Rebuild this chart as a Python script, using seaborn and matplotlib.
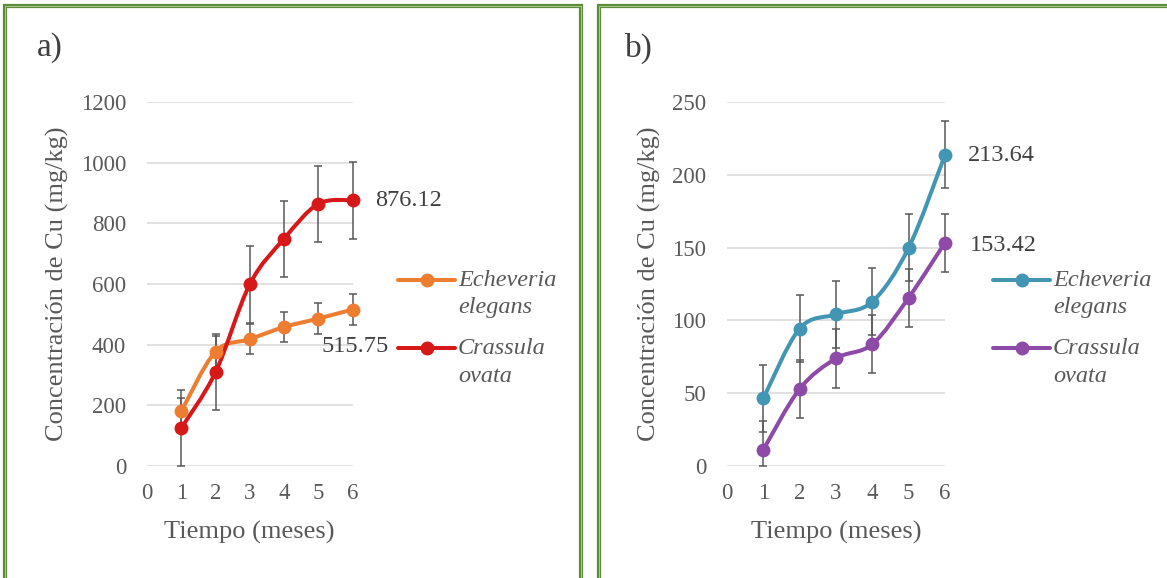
import numpy as np
import matplotlib
matplotlib.use("Agg")
import matplotlib.pyplot as plt
from matplotlib.path import Path
from matplotlib.patches import PathPatch, Rectangle
from matplotlib.lines import Line2D
import seaborn as sns

# ---------------- data ----------------
months = [1, 2, 3, 4, 5, 6]
x_ticks = [0, 1, 2, 3, 4, 5, 6]

# panel a)
ee_cu_a = [180, 377, 418, 458, 486, 515.75]
ee_err_a = [45, 53, 50, 50, 50, 50]
co_cu_a = [125, 309, 599, 749, 864, 876.12]
co_err_a = [125, 125, 126, 126, 126, 127]
y_ticks_a = [0, 200, 400, 600, 800, 1000, 1200]

# panel b)
ee_cu_b = [46.5, 94.4, 104.2, 112.9, 149.9, 213.64]
ee_err_b = [23, 23, 23, 23, 23, 23]
co_cu_b = [11.2, 52.9, 73.9, 83.7, 115.6, 153.42]
co_err_b = [20, 20, 20, 20, 20, 20]
y_ticks_b = [0, 50, 100, 150, 200, 250]

species = ["Echeveria\nelegans", "Crassula\novata"]
panel_labels = ["a)", "b)"]
x_title = "Tiempo (meses)"
y_title = "Concentración de Cu (mg/kg)"

# ---------------- style ----------------
sns.set_theme(style="white")
plt.rcParams["font.family"] = ["Liberation Serif", "DejaVu Serif"]

TICK_C = "#595959"
TXT_C = "#404040"
ERR_C = "#595959"
GRID_C = "#d9d9d9"
GREEN = "#5b8c3a"
GREEN_L = "#a8c890"

W, H = 1167, 578
fig = plt.figure(figsize=(W / 100, H / 100), dpi=100)


def fx(px):
    return px / W


def fy(py):
    return 1 - py / H


def smooth_path(xs, ys):
    xs = np.asarray(xs, float)
    ys = np.asarray(ys, float)
    n = len(xs)
    verts = [(xs[0], ys[0])]
    codes = [Path.MOVETO]
    for i in range(n - 1):
        i0 = max(i - 1, 0)
        i3 = min(i + 2, n - 1)
        c1 = (xs[i] + (xs[i + 1] - xs[i0]) / 6, ys[i] + (ys[i + 1] - ys[i0]) / 6)
        c2 = (xs[i + 1] - (xs[i3] - xs[i]) / 6, ys[i + 1] - (ys[i3] - ys[i]) / 6)
        verts += [c1, c2, (xs[i + 1], ys[i + 1])]
        codes += [Path.CURVE4, Path.CURVE4, Path.CURVE4]
    return Path(verts, codes)


def draw_series(ax, y, err, color):
    y_arr = np.asarray(y, float)
    e_arr = np.asarray(err, float)
    lower = np.minimum(e_arr, y_arr - ax.get_ylim()[0])  # bars stop at the axis floor
    ax.errorbar(months, y, yerr=[lower, e_arr], fmt="none", ecolor=ERR_C, elinewidth=1.1,
                capsize=3, capthick=1.1, zorder=2, clip_on=False)
    patch = PathPatch(smooth_path(months, y), facecolor="none", edgecolor=color,
                      lw=2.9, zorder=3, capstyle="round", joinstyle="round")
    patch.set_clip_on(False)
    ax.add_patch(patch)
    sns.scatterplot(x=months, y=y, ax=ax, color=color, s=100, linewidth=0,
                    zorder=4, clip_on=False, legend=False)


def style_axes(ax, yticks):
    ax.set_xlim(0, 6)
    ax.set_ylim(yticks[0], yticks[-1])
    ax.set_xticks(x_ticks)
    ax.set_yticks(yticks)
    ax.tick_params(axis="both", length=0, labelsize=16.5, labelcolor=TICK_C)
    ax.tick_params(axis="y", pad=15)
    ax.tick_params(axis="x", pad=12)
    ax.grid(axis="y", color=GRID_C, lw=1.1)
    ax.grid(axis="x", visible=False)
    for s in ax.spines.values():
        s.set_visible(False)
    ax.set_xlabel(x_title, fontsize=19, color=TICK_C)
    ax.set_ylabel(y_title, fontsize=19, color=TICK_C)
    ax.xaxis.label.set_va("center")
    ax.yaxis.label.set_va("center")


panels = [
    dict(left=147, right=352.5, y_ee=ee_cu_a, e_ee=ee_err_a, y_co=co_cu_a, e_co=co_err_a,
         c_ee="#ED7D31", c_co="#D71818", yticks=y_ticks_a, ylab_x=57,
         leg_x=398, title_x=50, frame=(5, 581)),
    dict(left=727, right=945, y_ee=ee_cu_b, e_ee=ee_err_b, y_co=co_cu_b, e_co=co_err_b,
         c_ee="#4396B3", c_co="#8D4AA6", yticks=y_ticks_b, ylab_x=649,
         leg_x=993, title_x=639, frame=(599, 1175)),
]

axes = []
for k, p in enumerate(panels):
    ax = fig.add_axes([fx(p["left"]), fy(466), fx(p["right"] - p["left"]), (466 - 102) / H])
    axes.append(ax)
    style_axes(ax, p["yticks"])
    draw_series(ax, p["y_ee"], p["e_ee"], p["c_ee"])
    draw_series(ax, p["y_co"], p["e_co"], p["c_co"])
    wpx = p["right"] - p["left"]
    ax.yaxis.set_label_coords((p["ylab_x"] - p["left"]) / wpx, 0.5)
    ax.xaxis.set_label_coords(0.5, (466 - 532) / 364)

    # panel frame (double green line)
    x0, x1 = p["frame"]
    for lw, col in [(4.2, GREEN), (1.0, GREEN_L)]:
        r = Rectangle((fx(x0), fy(590)), fx(x1 - x0), (590 - 6.3) / H,
                      transform=fig.transFigure, fill=False, edgecolor=col, lw=lw * 0.72,
                      zorder=0)
        fig.add_artist(r)

    fig.text(fx(p["title_x"]), fy(48), panel_labels[k], fontsize=24, color=TXT_C,
             ha="center", va="center")

    # manual legend
    lx = p["leg_x"]
    for (ly, ly2), col, name in [((280, 307.5), p["c_ee"], species[0]),
                                 ((348, 376), p["c_co"], species[1])]:
        fig.add_artist(Line2D([fx(lx), fx(lx + 57)], [fy(ly), fy(ly)],
                              transform=fig.transFigure, color=col, lw=2.9,
                              solid_capstyle="round"))
        fig.add_artist(Line2D([fx(lx + 28.5)], [fy(ly)], transform=fig.transFigure,
                              color=col, marker="o", markersize=10, markeredgewidth=0))
        l1, l2 = name.split("\n")
        fig.text(fx(lx + 60), fy(ly), l1, fontsize=17.5, style="italic", color=TICK_C,
                 ha="left", va="center")
        fig.text(fx(lx + 60), fy(ly2), l2, fontsize=17.5, style="italic", color=TICK_C,
                 ha="left", va="center")

# data labels
axes[0].annotate(f"{co_cu_a[-1]:.2f}", (months[-1], co_cu_a[-1]), xytext=(23, 0),
                 textcoords="offset pixels", ha="left", va="center", fontsize=17.5,
                 color=TXT_C, annotation_clip=False)
axes[0].annotate(f"{ee_cu_a[-1]:.2f}", (months[-1], ee_cu_a[-1]), xytext=(3, -37),
                 textcoords="offset pixels", ha="center", va="center", fontsize=17.5,
                 color=TXT_C, annotation_clip=False)
axes[1].annotate(f"{ee_cu_b[-1]:.2f}", (months[-1], ee_cu_b[-1]), xytext=(23, -1),
                 textcoords="offset pixels", ha="left", va="center", fontsize=17.5,
                 color=TXT_C, annotation_clip=False)
axes[1].annotate(f"{co_cu_b[-1]:.2f}", (months[-1], co_cu_b[-1]), xytext=(25, -3),
                 textcoords="offset pixels", ha="left", va="center", fontsize=17.5,
                 color=TXT_C, annotation_clip=False)

fig.savefig("out.png", dpi=100)
